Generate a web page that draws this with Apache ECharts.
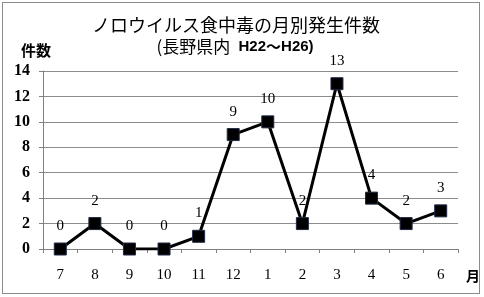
<!DOCTYPE html>
<html><head><meta charset="utf-8">
<script src="https://cdn.jsdelivr.net/npm/echarts@6/dist/echarts.min.js"></script>
<style>
html,body{margin:0;padding:0;background:#fff;}
#wrap{position:absolute;left:2px;top:2px;width:476px;height:290px;border:1px solid #8c8c8c;}
#c{position:absolute;left:0;top:0;width:484px;height:297px;}
</style></head>
<body><div id="wrap"></div><div id="c"></div>
<script>
const months = ['7','8','9','10','11','12','1','2','3','4','5','6'];
const counts = [0,2,0,0,1,9,10,2,13,4,2,3];
const yTicks = [0,2,4,6,8,10,12,14];
const chart = echarts.init(document.getElementById('c'));
chart.setOption({
  animation:false,
  title:[
    {text:'ノロウイルス食中毒の月別発生件数',left:231,top:11,textAlign:'center',
     textStyle:{fontFamily:'Noto Sans CJK JP',fontSize:18,fontWeight:'normal',color:'#000'}},
    {text:'{a|(長野県内}{b|  H22}{c|～}{b|H26)}',left:230,top:33,textAlign:'center',
     textStyle:{rich:{
       a:{fontFamily:'Noto Sans CJK JP',fontSize:17,fontWeight:'normal',color:'#000'},
       b:{fontFamily:'Liberation Sans',fontSize:15,fontWeight:'bold',color:'#000'},
       c:{fontFamily:'Noto Sans CJK JP',fontSize:15,fontWeight:'bold',color:'#000'}}}},
    {text:'件数',left:16,top:38,
     textStyle:{fontFamily:'Noto Sans CJK JP',fontSize:15,fontWeight:'bold',color:'#000'}},
    {text:'月',left:461,top:264,
     textStyle:{fontFamily:'Noto Sans CJK JP',fontSize:14,fontWeight:'bold',color:'#000'}}
  ],
  grid:{left:43,right:26,top:71,bottom:48},
  xAxis:{type:'category',data:months,boundaryGap:true,
    axisLine:{lineStyle:{color:'#808080',width:1}},
    axisTick:{show:true,length:4,lineStyle:{color:'#808080'}},
    axisLabel:{margin:19,fontFamily:'Liberation Serif',fontSize:15,color:'#000'}},
  yAxis:{type:'value',min:0,max:14,interval:2,
    axisLine:{show:true,lineStyle:{color:'#808080'}},
    axisTick:{show:true,length:4,lineStyle:{color:'#808080'}},
    splitLine:{lineStyle:{color:'#8c8c8c',width:1}},
    axisLabel:{margin:13,fontFamily:'Liberation Serif',fontSize:16,fontWeight:'bold',color:'#000'}},
  series:[{type:'line',data:counts,symbol:'rect',symbolSize:12,
    lineStyle:{color:'#000',width:3},
    itemStyle:{color:'#000',borderColor:'#1f2a44',borderWidth:1},
    label:{show:true,position:'top',distance:9,fontFamily:'Liberation Serif',fontSize:15,color:'#000'}}]
});
</script></body></html>
